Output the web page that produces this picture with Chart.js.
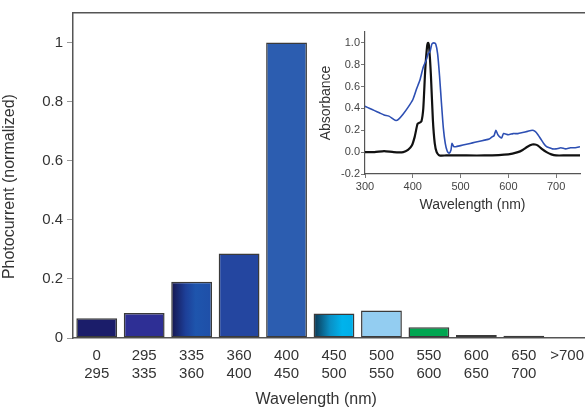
<!DOCTYPE html>
<html>
<head>
<meta charset="utf-8">
<script src="https://cdn.jsdelivr.net/npm/chart.js@4.4.1/dist/chart.umd.min.js"></script>
<style>
  html, body { margin: 0; padding: 0; background: #fff; overflow: hidden; }
  #wrap { position: relative; width: 585px; height: 409px; overflow: hidden; }
  #main { position: absolute; left: 0; top: 0; }
  #inset { position: absolute; left: 318px; top: 22px; }
</style>
</head>
<body>
<div id="wrap">
  <canvas id="main" width="595" height="409"></canvas>
  <canvas id="inset" width="267" height="192"></canvas>
</div>
<script>
// ---- Main bar chart data ----
const categories = [['0','295'],['295','335'],['335','360'],['360','400'],['400','450'],
                    ['450','500'],['500','550'],['550','600'],['600','650'],['650','700'],'>700\u00a0\u00a0'];
const photocurrent = [0.067, 0.085, 0.19, 0.286, 1.0, 0.083, 0.093, 0.036, 0.010, 0.008, 0];
const yTicksMain = [0, 0.2, 0.4, 0.6, 0.8, 1];

// ---- Inset absorbance data ----
const blueWl  = [300,310,320,330,340,350,360,365,370,380,390,400,408,415,422,428,432,436,440,444,448,452,456,460,464,468,472,476,480,482,486,490,500,510,520,530,540,550,560,566,570,574,578,582,586,590,600,610,620,630,640,650,656,662,668,674,680,686,692,700,710,720,730,740,750];
const blueAbs = [0.42,0.40,0.38,0.36,0.34,0.33,0.30,0.29,0.30,0.35,0.41,0.48,0.58,0.66,0.78,0.84,0.90,0.92,0.99,1.00,0.99,0.90,0.70,0.45,0.22,0.08,0.01,-0.01,0.02,0.08,0.05,0.05,0.06,0.07,0.08,0.09,0.10,0.11,0.12,0.14,0.15,0.20,0.16,0.14,0.13,0.17,0.16,0.17,0.17,0.18,0.19,0.20,0.19,0.16,0.12,0.08,0.05,0.04,0.03,0.03,0.04,0.03,0.04,0.04,0.05];
const blackWl  = [300,320,340,360,380,390,398,404,410,414,418,422,426,430,432,434,438,442,446,450,456,470,500,550,600,620,630,640,650,656,662,670,680,690,700,720,750];
const blackAbs = [0.00,0.00,0.01,0.00,0.00,0.02,0.06,0.14,0.26,0.27,0.28,0.40,0.75,0.97,1.00,0.97,0.70,0.30,0.08,0.00,-0.03,-0.03,-0.03,-0.03,-0.02,0.00,0.02,0.05,0.07,0.07,0.06,0.03,0.00,-0.02,-0.03,-0.03,-0.03];
const xTicksInset = [300, 400, 500, 600, 700];
const yTicksInset = [-0.2, 0, 0.2, 0.4, 0.6, 0.8, 1.0];

const barColors = ['#1b1d6a', '#2e2f95', 'grad1', '#2446a0', '#2c5db0', 'grad2', '#93cdf1', '#00a651', '#8a7763', '#5a3f50', '#555'];
const FONT = "'Liberation Sans', Arial, Helvetica, sans-serif";

function barColor(context) {
  const i = context.dataIndex;
  const c = barColors[i];
  if (c !== 'grad1' && c !== 'grad2') return c;
  const chart = context.chart;
  const xs = chart.scales.x;
  if (!xs || !chart.chartArea) return c === 'grad1' ? '#1e4aa5' : '#00aee8';
  const cx = xs.getPixelForValue(i);
  const w = (xs.width / categories.length) * 0.86;
  const g = chart.ctx.createLinearGradient(cx - w / 2, 0, cx + w / 2, 0);
  if (c === 'grad1') {
    g.addColorStop(0, '#15154f');
    g.addColorStop(0.35, '#1d3f98');
    g.addColorStop(0.6, '#1e55ad');
    g.addColorStop(1, '#1f4fa8');
  } else {
    g.addColorStop(0, '#0b3550');
    g.addColorStop(0.4, '#0a8fc4');
    g.addColorStop(0.7, '#00b3ec');
    g.addColorStop(1, '#00aee8');
  }
  return g;
}

new Chart(document.getElementById('main'), {
  type: 'bar',
  data: {
    labels: categories,
    datasets: [{
      data: photocurrent,
      backgroundColor: barColor,
      borderColor: '#3a3a3a',
      borderWidth: 1.5,
      borderSkipped: false,
      categoryPercentage: 1.0,
      barPercentage: 0.86
    }]
  },
  options: {
    responsive: false,
    animation: false,
    events: [],
    layout: { padding: { top: 13, right: 0, left: 0, bottom: 0 } },
    plugins: { legend: { display: false }, tooltip: { enabled: false } },
    scales: {
      x: {
        type: 'category',
        position: 'bottom',
        grid: { display: false },
        border: { display: true, color: '#555', width: 1.5 },
        ticks: { color: '#333', font: { family: FONT, size: 15, lineHeight: 1.25 }, padding: 0, maxRotation: 0, autoSkip: false },
        title: { display: true, text: 'Wavelength (nm)' + '\u00a0'.repeat(8), color: '#333', font: { family: FONT, size: 16 }, padding: { top: 2, bottom: 0 } },
        afterFit: s => { s.height = 71; }
      },
      xTop: {
        type: 'category',
        position: 'top',
        grid: { display: true, drawOnChartArea: false, drawTicks: false },
        border: { display: true, color: '#555', width: 1.5 },
        ticks: { display: false },
        afterFit: s => { s.height = 0; }
      },
      y: {
        min: 0, max: 1.1,
        grid: { display: true, drawOnChartArea: false, drawTicks: true, tickLength: 6, color: '#999' },
        border: { display: true, color: '#555', width: 1.5 },
        ticks: { color: '#333', font: { family: FONT, size: 15 }, padding: 4, callback: v => String(Math.round(v * 10) / 10) },
        afterBuildTicks: s => { s.ticks = yTicksMain.map(v => ({ value: v })); },
        title: { display: true, text: 'Photocurrent (normalized)' + '\u00a0'.repeat(5), color: '#333', font: { family: FONT, size: 16 }, padding: { top: 0, bottom: 4 } },
        afterFit: s => { s.width = 73; }
      }
    }
  }
});

new Chart(document.getElementById('inset'), {
  type: 'line',
  data: {
    datasets: [
      { data: blueWl.map((x, i) => ({ x, y: blueAbs[i] })), borderColor: '#2d4fb3', borderWidth: 1.6, pointRadius: 0, tension: 0.2 },
      { data: blackWl.map((x, i) => ({ x, y: blackAbs[i] })), borderColor: '#111', borderWidth: 2.2, pointRadius: 0, tension: 0.2 }
    ]
  },
  options: {
    responsive: false,
    animation: false,
    events: [],
    layout: { padding: { top: 10, right: 5, left: 0, bottom: 0 } },
    plugins: { legend: { display: false }, tooltip: { enabled: false } },
    scales: {
      x: {
        type: 'linear', min: 300, max: 750,
        grid: { display: true, drawOnChartArea: false, drawTicks: true, tickLength: 4, color: '#777' },
        border: { display: true, color: '#555', width: 1.2 },
        ticks: { color: '#444', font: { family: FONT, size: 11 }, padding: 2, maxRotation: 0 },
        afterBuildTicks: s => { s.ticks = xTicksInset.map(v => ({ value: v })); },
        title: { display: true, text: 'Wavelength (nm)', color: '#333', font: { family: FONT, size: 14 }, padding: { top: 0, bottom: 0 } },
        afterFit: s => { s.height = 40; }
      },
      y: {
        min: -0.2, max: 1.1,
        grid: { display: true, drawOnChartArea: false, drawTicks: true, tickLength: 4, color: '#777' },
        border: { display: true, color: '#555', width: 1.2 },
        ticks: { color: '#444', font: { family: FONT, size: 11 }, padding: 1, callback: v => v.toFixed(1) },
        afterBuildTicks: s => { s.ticks = yTicksInset.map(v => ({ value: v })); },
        title: { display: true, text: 'Absorbance', color: '#333', font: { family: FONT, size: 14 }, padding: { top: 0, bottom: 2 } },
        afterFit: s => { s.width = 47; }
      }
    }
  }
});
</script>
</body>
</html>
